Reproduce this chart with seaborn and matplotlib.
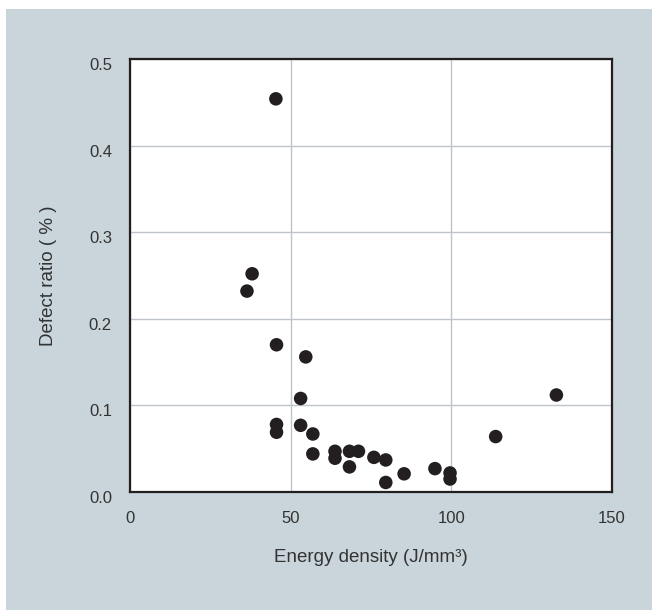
import matplotlib
matplotlib.use("Agg")
import matplotlib.pyplot as plt
import matplotlib.transforms as mtransforms
import seaborn as sns
import pandas as pd
from matplotlib.patches import Rectangle

energy_density = [45.4, 38.0, 36.4, 45.6, 54.7, 53.1, 45.6, 45.6, 53.1, 56.9,
                  56.9, 63.8, 63.8, 68.3, 71.1, 68.3, 75.9, 79.6, 79.6, 85.3,
                  94.9, 99.6, 99.6, 113.8, 132.7]
defect_ratio = [0.454, 0.252, 0.232, 0.170, 0.156, 0.108, 0.078, 0.069, 0.077, 0.067,
                0.044, 0.047, 0.039, 0.047, 0.047, 0.029, 0.040, 0.037, 0.011, 0.021,
                0.027, 0.022, 0.015, 0.064, 0.112]
x_ticks = [0, 50, 100, 150]
y_ticks = [0.0, 0.1, 0.2, 0.3, 0.4, 0.5]
y_tick_labels = ["0.0", "0.1", "0.2", "0.3", "0.4", "0.5"]

df = pd.DataFrame({"Energy density": energy_density, "Defect ratio": defect_ratio})

sns.set_style("white")
plt.rcParams["font.family"] = ["Liberation Sans", "DejaVu Sans"]

bg = "#c9d5da"
fig = plt.figure(figsize=(6.52, 6.10), dpi=100, facecolor="white")
fig.patches.append(Rectangle((6 / 652, 0), 1 - 6 / 652, 1 - 9 / 610,
                             transform=fig.transFigure, facecolor=bg,
                             edgecolor="none", zorder=-10))
ax = fig.add_axes([130 / 652, 118 / 610, 482 / 652, 433 / 610])
ax.set_facecolor("white")

sns.scatterplot(data=df, x="Energy density", y="Defect ratio", ax=ax,
                s=95, color="#231f20", edgecolor="none", zorder=3)

ax.set_xlim(0, 150)
ax.set_ylim(0, 0.5)
ax.set_xticks(x_ticks)
ax.set_yticks(y_ticks)
ax.set_yticklabels(y_tick_labels)
ax.grid(True, color="#bfc4ca", linewidth=1.0, zorder=0)
ax.set_axisbelow(True)
for s in ax.spines.values():
    s.set_color("#231f20")
    s.set_linewidth(1.6)
ax.tick_params(axis="both", length=0, labelsize=12, colors="#333333")
ax.tick_params(axis="x", pad=13.5)
ax.tick_params(axis="y", pad=13)
shift = mtransforms.ScaledTranslation(0, -5 / 100, fig.dpi_scale_trans)
for lab in ax.get_yticklabels():
    lab.set_transform(lab.get_transform() + shift)
ax.set_xlabel("Energy density (J/mm³)", fontsize=13.5, color="#333333")
ax.set_ylabel("Defect ratio ( % )", fontsize=13.5, color="#333333")
ax.xaxis.set_label_coords(0.5, (492 - 558) / 433)
ax.xaxis.label.set_va("center")
ax.yaxis.set_label_coords((48 - 130) / 482, (492 - 276) / 433)
ax.yaxis.label.set_va("center")

fig.savefig("out.png", dpi=100, facecolor=fig.get_facecolor())
